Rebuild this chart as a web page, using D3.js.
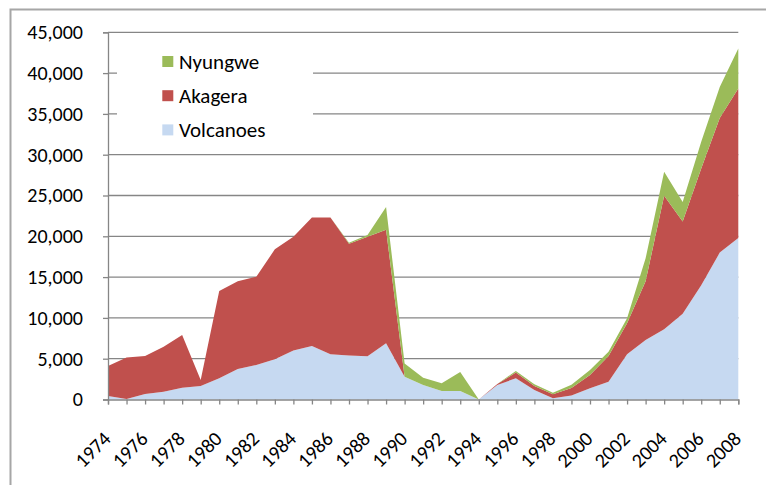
<!DOCTYPE html>
<html>
<head>
<meta charset="utf-8">
<script src="https://cdn.jsdelivr.net/npm/d3@7"></script>
<style>
  html, body { margin: 0; padding: 0; background: #fff; }
  svg { display: block; font-family: Calibri, Carlito, "Open Sans", sans-serif; }
</style>
</head>
<body>
<div id="chart"></div>
<script>
// === DATA ===
const years = d3.range(1974, 2009);
const volcanoes = [430, 50, 670, 960, 1450, 1650, 2600, 3740, 4230, 4930, 6000, 6560,
  5560, 5400, 5300, 6900, 2800, 1780, 1040, 1040, 0, 1780, 2600, 1160, 150, 500,
  1370, 2180, 5540, 7290, 8600, 10500, 14000, 18000, 19800];
const akagera = [3670, 5110, 4660, 5510, 6450, 740, 10700, 10760, 10820, 13470, 13950, 15740,
  16740, 13700, 14650, 13900, 0, 0, 0, 0, 0, 120, 700, 490, 490, 900,
  1630, 3150, 3800, 7210, 16370, 11300, 14300, 16500, 18300];
const nyungwe = [0, 0, 0, 0, 0, 0, 0, 0, 0, 0, 0, 0,
  0, 100, 200, 2800, 1600, 890, 940, 2330, 0, 0, 200, 210, 200, 410,
  600, 530, 610, 2800, 2930, 2400, 3300, 3800, 4900];
const seriesNames = ["Volcanoes", "Akagera", "Nyungwe"];
const yTicks = d3.range(0, 45001, 5000);
const xLabelYears = years.filter(y => (y - 1974) % 2 === 0);

const colors = { Volcanoes: "#c6d9f1", Akagera: "#c0504d", Nyungwe: "#9bbb59" };

// === SETUP ===
const width = 766, height = 485;
const svg = d3.select("#chart").append("svg")
  .attr("width", width)
  .attr("height", height);

// outer frame (runs off the right and bottom edge)
svg.append("rect")
  .attr("x", 10.5).attr("y", 9.5)
  .attr("width", 800).attr("height", 500)
  .attr("fill", "none")
  .attr("stroke", "#a6a6a6")
  .attr("stroke-width", 2);

const x = d3.scalePoint().domain(years).range([108, 738.3]);
const y = d3.scaleLinear().domain([0, 45000]).range([399.5, 32.3]);

const table = years.map((yr, i) => ({
  year: yr, Volcanoes: volcanoes[i], Akagera: akagera[i], Nyungwe: nyungwe[i]
}));
const stacked = d3.stack().keys(seriesNames)(table);

// gridlines
svg.append("g")
  .selectAll("line")
  .data(yTicks.filter(d => d > 0))
  .join("line")
  .attr("x1", 108).attr("x2", 738.3)
  .attr("y1", d => y(d)).attr("y2", d => y(d))
  .attr("stroke", "#868686")
  .attr("stroke-width", 1.3);

// legend background hides gridlines
svg.append("rect")
  .attr("x", 117).attr("y", 40)
  .attr("width", 196).attr("height", 108)
  .attr("fill", "#fff");

// areas
const area = d3.area()
  .x(d => x(d.data.year))
  .y0(d => y(d[0]))
  .y1(d => y(d[1]));

svg.append("g")
  .selectAll("path")
  .data(stacked)
  .join("path")
  .attr("fill", d => colors[d.key])
  .attr("d", area);

// y axis
const yAxis = svg.append("g")
  .attr("transform", "translate(108,0)")
  .call(d3.axisLeft(y).tickValues(yTicks).tickSize(5).tickPadding(20).tickFormat(d3.format(",")));
yAxis.select(".domain").attr("stroke", "#868686").attr("stroke-width", 1.3);
yAxis.selectAll(".tick line").attr("stroke", "#868686").attr("stroke-width", 1.3);
yAxis.selectAll(".tick text")
  .attr("font-size", "20px")
  .attr("font-family", "Calibri, Carlito, 'Open Sans', sans-serif")
  .attr("fill", "#000");

// x axis
const xAxis = svg.append("g")
  .attr("transform", "translate(0,399.5)")
  .call(d3.axisBottom(x).tickSize(5).tickFormat(""));
xAxis.select(".domain").attr("stroke", "#868686").attr("stroke-width", 1.3);
xAxis.selectAll(".tick line").attr("stroke", "#868686").attr("stroke-width", 1.3);

svg.append("g")
  .selectAll("text")
  .data(xLabelYears)
  .join("text")
  .attr("transform", d => `translate(${x(d) + 4},${440}) rotate(-45)`)
  .attr("text-anchor", "end")
  .attr("font-size", "20px")
  .attr("fill", "#000")
  .text(d => d);

// legend
const legendItems = ["Nyungwe", "Akagera", "Volcanoes"];
const legend = svg.append("g");
legend.selectAll("rect")
  .data(legendItems)
  .join("rect")
  .attr("x", 162.3)
  .attr("y", (d, i) => 56 + i * 34.2)
  .attr("width", 11)
  .attr("height", 11)
  .attr("fill", d => colors[d]);
legend.selectAll("text")
  .data(legendItems)
  .join("text")
  .attr("x", 179)
  .attr("y", (d, i) => 61.5 + i * 34.2)
  .attr("dy", "0.36em")
  .attr("font-size", "21px")
  .attr("fill", "#000")
  .text(d => d);
</script>
</body>
</html>
